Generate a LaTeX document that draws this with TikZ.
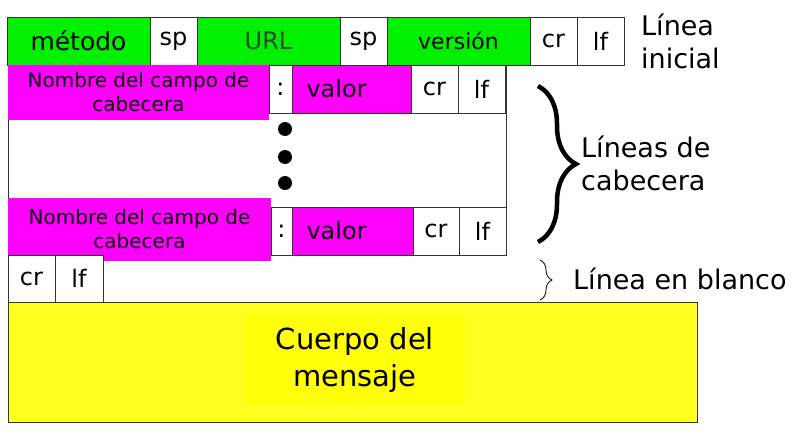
\documentclass[tikz,border=0pt]{standalone}
\usepackage{fontspec}
\setmainfont{DejaVu Sans}
\usetikzlibrary{positioning,decorations.pathreplacing}

\definecolor{campoverde}{RGB}{0,240,0}
\definecolor{campomag}{RGB}{255,0,255}
\definecolor{cuerpoam}{RGB}{255,255,32}
\definecolor{textoam}{RGB}{255,255,8}
\definecolor{urltexto}{RGB}{40,75,40}

\tikzset{
  fld/.style={draw=black!80, line width=1pt, fill=white, inner sep=0pt, outer sep=0pt,
    minimum height=48pt, font=\fontsize{24}{24}\selectfont},
  verde/.style={fld, fill=campoverde, minimum width=143pt},
  mag/.style={fill=campomag, inner sep=0pt, outer sep=0pt, align=center,
    font=\fontsize{20}{24}\selectfont},
  etiq/.style={align=left, inner sep=0pt, font=\fontsize{27}{33}\selectfont},
}

\begin{document}
\begin{tikzpicture}[x=1pt, y=-1pt, node distance=0pt]
  \useasboundingbox (0,0) rectangle (798,434); %
  % linea inicial
  \node[verde, anchor=north west, font=\fontsize{25}{25}\selectfont] (metodo) at (7,17) {método}; %
  \node[fld, right=of metodo, minimum width=47pt] (sp1) {sp}; %
  \node[verde, right=of sp1, text=urltexto] (url) {URL}; %
  \node[fld, right=of url, minimum width=47pt] (sp2) {sp}; %
  \node[verde, right=of sp2, font=\fontsize{22}{22}\selectfont] (version) {versión}; %
  \node[fld, right=of version, minimum width=47pt] (cr1) {cr}; %
  \node[fld, right=of cr1, minimum width=47pt] (lf1) {lf}; %
  \node[etiq, anchor=west] (lineaini) at (641,41) {Línea\\inicial}; %
  % lineas de cabecera
  \node[fld, anchor=north west, minimum width=498pt, minimum height=190pt] (cabecera) at (8,65) {}; %
  \node[mag, anchor=north west, minimum width=261pt, minimum height=55pt] (nombre1) at (8,65) {Nombre del campo de\\cabecera}; %
  \node[fld, anchor=north west, minimum width=23pt] (dos1) at (269,65) {:}; %
  \node[fld, right=of dos1, fill=campomag, minimum width=119pt, text width=90pt] (valor1) {valor}; %
  \node[fld, right=of valor1, minimum width=47pt] (cr2) {cr}; %
  \node[fld, right=of cr2, minimum width=47pt] (lf2) {lf}; %
  \foreach \y in {129,157,183} \fill (285,\y) circle (7pt); %
  \node[fld, anchor=north west, minimum width=21pt] (dos2) at (271,207) {:}; %
  \node[fld, right=of dos2, fill=campomag, minimum width=121pt, text width=92pt] (valor2) {valor}; %
  \node[fld, right=of valor2, minimum width=46pt] (cr3) {cr}; %
  \node[fld, right=of cr3, minimum width=47pt] (lf3) {lf}; %
  \node[mag, anchor=north west, minimum width=263pt, minimum height=63pt] (nombre2) at (8,198) {Nombre del campo de\\cabecera}; %
  \draw[decorate, decoration={brace, amplitude=38pt}, line width=4.5pt] (538,86) -- (538,242); %
  \node[etiq, anchor=west] (lineascab) at (581,163) {Líneas de\\cabecera}; %
  % linea en blanco
  \node[fld, anchor=north west, minimum width=47pt, minimum height=47pt] (cr4) at (8,255) {cr}; %
  \node[fld, right=of cr4, minimum width=48pt, minimum height=47pt] (lf4) {lf}; %
  \draw[decorate, decoration={brace, amplitude=12pt}, line width=0.8pt] (540,260) -- (540,300); %
  \node[etiq, anchor=west] (lineablanco) at (573,279) {Línea en blanco}; %
  % cuerpo
  \node[fld, fill=cuerpoam, anchor=north west, minimum width=689pt, minimum height=120pt] (cuerpo) at (8,302) {}; %
  \node[fill=textoam, align=center, minimum width=220pt, minimum height=90pt,
    font=\fontsize{29}{37}\selectfont] (texto) at (355,360) {Cuerpo del\\mensaje}; %
\end{tikzpicture}
\end{document}
